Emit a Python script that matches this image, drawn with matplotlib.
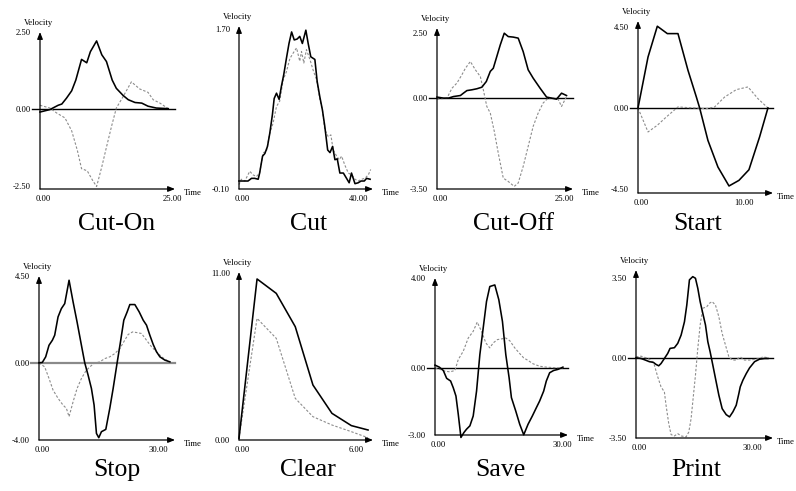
import matplotlib.pyplot as plt
from matplotlib.transforms import ScaledTranslation

plt.rcParams['font.family'] = ['Liberation Serif', 'DejaVu Serif']

# ---- data (time, velocity) ----
# Cut-On
cut_on_t = [0, 1.9, 3.5, 4.2, 5.1, 6.1, 6.9, 8.0, 9.0, 9.7, 10.9, 11.9, 12.8,
            13.9, 14.7, 16.0, 17.0, 18.3, 19.6, 20.8, 22.4, 24.7]
cut_on_solid = [-0.10, -0.02, 0.12, 0.16, 0.35, 0.59, 0.94, 1.61, 1.50, 1.86, 2.21,
                1.76, 1.54, 0.94, 0.67, 0.44, 0.30, 0.21, 0.19, 0.09, 0.03, 0.01]
cut_on_dot_t = [0, 1.9, 3.2, 4.8, 6.1, 7.2, 8.0, 9.1, 10.1, 10.9, 11.9, 12.8, 13.8,
                14.7, 16.0, 17.6, 19.2, 20.8, 21.8, 23.1, 24.7]
cut_on_dot = [0.12, 0.03, -0.13, -0.29, -0.71, -1.35, -1.94, -2.01, -2.31, -2.52,
              -1.88, -1.24, -0.55, 0.03, 0.40, 0.88, 0.65, 0.54, 0.30, 0.19, 0.01]

# Cut
cut_t = [0, 1.4, 3.1, 4.3, 5.4, 6.6, 7.1, 8.1, 8.9, 9.8, 10.6, 11.5, 12.1, 12.9,
         13.8, 14.6, 15.4, 16.3, 17.2, 18.1, 19.0, 20.0, 20.9, 21.8, 23.0, 23.8,
         24.7, 26.1, 26.9, 27.8, 28.7, 29.5, 30.5, 31.3, 32.2, 33.0, 33.8, 34.7,
         35.9, 37.0, 37.9, 38.7, 39.9, 41.0, 42.0, 43.1, 43.9, 45.1]
cut_solid = [-0.01, -0.01, -0.01, 0.02, 0.02, 0.01, 0.08, 0.27, 0.30, 0.38, 0.53,
             0.74, 0.92, 0.98, 0.91, 1.06, 1.19, 1.37, 1.54, 1.67, 1.58, 1.59, 1.62,
             1.54, 1.69, 1.54, 1.39, 1.36, 1.11, 0.94, 0.79, 0.61, 0.34, 0.31, 0.38,
             0.23, 0.24, 0.08, 0.08, 0.02, -0.03, 0.08, -0.04, -0.03, -0.01, -0.01,
             0.02, 0.01]
cut_dot_t = [0, 0.8, 2.0, 3.7, 4.8, 6.0, 7.1, 8.3, 9.4, 10.6, 11.7, 12.9, 14.0, 15.2,
             16.3, 17.5, 18.6, 19.8, 20.9, 21.5, 22.3, 23.2, 24.4, 25.5, 26.7, 27.8,
             28.7, 29.5, 30.7, 31.6, 32.4, 33.6, 34.5, 35.3, 36.4, 37.6, 38.7, 39.9,
             41.0, 42.2, 43.3, 44.5, 45.3]
cut_dot = [-0.05, 0.01, -0.01, 0.10, 0.06, 0.04, 0.08, 0.31, 0.32, 0.53, 0.64, 0.83,
           0.89, 1.13, 1.22, 1.37, 1.43, 1.49, 1.34, 1.45, 1.32, 1.47, 1.36, 1.24,
           1.13, 0.91, 0.79, 0.57, 0.49, 0.51, 0.34, 0.27, 0.23, 0.27, 0.17, 0.08,
           0.06, 0.01, -0.01, 0.01, 0.02, 0.06, 0.12]

# Cut-Off
cut_off_t = [0, 1.3, 2.3, 3.3, 4.7, 5.3, 6.0, 7.0, 8.0, 9.0, 9.9, 10.7, 11.3, 12.0,
             12.7, 13.5, 14.3, 15.3, 16.3, 17.3, 18.3, 19.3, 20.7, 22.0, 23.0, 24.0,
             25.0, 26.0]
cut_off_solid = [0.04, 0, 0, 0.06, 0.10, 0.19, 0.29, 0.32, 0.36, 0.42, 0.64, 1.03,
                 1.15, 1.60, 2.05, 2.50, 2.37, 2.35, 2.31, 1.79, 1.09, 0.77, 0.38,
                 0.04, 0, -0.04, 0.19, 0.10]
cut_off_dot_t = [0, 2.0, 3.0, 4.0, 5.0, 5.7, 6.7, 7.7, 8.7, 9.3, 10.0, 10.7, 11.5,
                 12.3, 13.3, 14.3, 15.5, 16.3, 17.3, 18.3, 19.3, 20.3, 21.3, 22.3,
                 23.3, 24.3, 25.0, 26.0]
cut_off_dot = [-0.04, 0, 0.38, 0.58, 0.90, 1.15, 1.41, 1.09, 0.83, 0.32, -0.32,
               -0.58, -1.28, -2.12, -3.08, -3.21, -3.40, -3.27, -2.63, -1.86, -1.09,
               -0.58, -0.19, 0, 0, -0.04, -0.32, 0.06]

# Start
start_t = [0, 0.97, 1.87, 2.84, 3.87, 4.84, 5.65, 5.97, 6.77, 7.74, 8.81, 9.77,
           10.74, 11.77, 12.58]
start_solid = [0, 2.83, 4.54, 4.13, 4.13, 2.09, 0.61, 0, -1.80, -3.28, -4.33,
               -4.02, -3.43, -1.61, 0]
start_dot_t = [0, 0.97, 1.87, 2.74, 3.87, 4.84, 5.65, 6.61, 7.42, 8.39, 9.52,
               10.65, 11.61, 12.58]
start_dot = [0, -1.33, -0.96, -0.50, 0.06, 0.02, 0, -0.04, 0.06, 0.61, 1.02, 1.17,
             0.52, 0]

# Stop
stop_t = [0, 0.86, 1.73, 2.59, 3.46, 4.06, 4.93, 5.79, 6.66, 7.78, 8.82, 9.85,
          10.98, 11.84, 12.71, 13.57, 14.26, 14.87, 15.47, 16.16, 17.29, 18.32,
          19.19, 20.22, 21.09, 21.95, 22.82, 23.51, 24.81, 25.93, 26.97, 27.83,
          28.69, 29.56, 30.42, 31.29, 32.58, 33.88]
stop_solid = [0, 0.02, 0.31, 0.91, 1.17, 1.43, 2.38, 2.81, 3.07, 4.28, 3.16, 2.12,
              0.91, 0, -0.64, -1.33, -2.19, -3.66, -3.88, -3.57, -3.45, -2.36, -1.33,
              0, 1.09, 2.21, 2.64, 3.02, 3.02, 2.64, 2.21, 1.95, 1.43, 0.95, 0.57,
              0.31, 0.14, 0.05]
stop_dot_t = [0, 1.47, 2.59, 3.63, 4.93, 6.22, 7.09, 7.78, 8.82, 9.85, 10.98, 12.1,
              13.14, 14.26, 15.73, 17.03, 18.32, 19.62, 20.92, 21.95, 23.08, 24.2,
              25.24, 26.53, 27.83, 29.13, 30.42, 31.72, 33.02, 33.88]
stop_dot = [0, -0.21, -0.81, -1.41, -1.84, -2.19, -2.36, -2.79, -2.02, -1.33, -0.81,
            -0.43, -0.21, -0.03, 0.05, 0.22, 0.31, 0.48, 0.74, 1.09, 1.47, 1.60,
            1.57, 1.52, 1.17, 0.83, 0.57, 0.31, 0.14, 0.05]

# Clear
clear_t = [0, 0.95, 1.96, 2.96, 3.89, 4.89, 5.91, 6.79]
clear_solid = [0.11, 10.63, 9.68, 7.48, 3.63, 1.76, 0.95, 0.66]
clear_dot_t = clear_t
clear_dot = [0.11, 8.03, 6.71, 2.75, 1.54, 0.99, 0.55, 0.15]

# Save
save_t = [0, 1.05, 2.01, 2.82, 3.78, 4.42, 5.07, 5.63, 6.28, 7.0, 7.64, 8.45, 9.25,
          10.06, 10.86, 11.67, 12.47, 13.27, 14.48, 15.45, 16.33, 17.14, 17.94,
          18.5, 19.55, 20.51, 21.48, 22.53, 23.57, 24.54, 25.34, 26.31, 26.95,
          27.76, 28.72, 29.77, 30.97]
save_solid = [0.12, 0.03, -0.12, -0.47, -0.59, -0.89, -1.26, -2.07, -3.11, -2.89,
              -2.74, -2.59, -2.15, -1.04, 0.59, 1.78, 2.96, 3.63, 3.70, 3.04, 2.07,
              0.59, -0.44, -1.33, -1.93, -2.52, -2.99, -2.52, -2.15, -1.78, -1.48,
              -1.04, -0.59, -0.22, -0.12, -0.07, 0.03]
save_dot_t = [0, 1.21, 2.41, 3.62, 4.83, 5.63, 6.84, 8.05, 9.25, 10.22, 11.26,
              12.31, 13.27, 14.08, 15.12, 16.09, 17.14, 18.1, 19.31, 20.35, 21.48,
              22.53, 23.73, 25.34, 26.95, 29.36, 30.97]
save_dot = [0, -0.07, -0.15, -0.18, -0.12, 0.37, 0.74, 1.33, 1.63, 2.04, 1.63, 1.11,
            0.89, 1.11, 1.26, 1.29, 1.33, 1.21, 0.89, 0.67, 0.44, 0.33, 0.18, 0.07,
            0.03, 0, 0]

# Print
print_t = [0, 1.32, 2.47, 3.53, 4.59, 5.3, 6.0, 6.62, 7.5, 8.38, 9.0, 10.15, 11.03,
           11.92, 12.8, 13.42, 14.12, 15.0, 15.71, 16.33, 16.95, 17.65, 18.36,
           18.98, 19.59, 20.3, 21.0, 21.89, 22.77, 23.83, 24.71, 25.6, 26.48,
           27.18, 27.54, 28.24, 29.13, 30.01, 31.33, 32.66, 33.98, 34.86]
print_solid = [0, -0.03, -0.10, -0.17, -0.20, -0.29, -0.35, -0.25, -0.03, 0.19,
               0.41, 0.44, 0.63, 0.99, 1.57, 2.30, 3.40, 3.54, 3.47, 3.03, 2.45,
               1.94, 1.43, 0.70, 0.26, -0.32, -0.90, -1.63, -2.22, -2.48, -2.58,
               -2.36, -2.07, -1.56, -1.27, -0.98, -0.69, -0.44, -0.17, -0.06, -0.03,
               -0.03]
print_dot_t = [0, 1.32, 2.65, 3.97, 4.85, 5.74, 6.62, 7.5, 7.94, 8.65, 9.27, 10.15,
               11.03, 11.92, 13.24, 13.95, 14.56, 15.18, 15.71, 16.33, 16.95, 17.65,
               18.71, 19.42, 20.12, 21.0, 21.89, 22.77, 23.65, 24.54, 25.42, 26.48,
               27.54, 28.68, 30.01, 31.33, 32.66, 33.54, 34.86]
print_dot = [0.04, 0.07, 0, -0.10, -0.32, -0.83, -1.27, -1.49, -2.07, -2.87, -3.35,
             -3.41, -3.31, -3.41, -3.45, -3.24, -2.65, -1.63, -0.76, 0.41, 1.43,
             2.16, 2.23, 2.38, 2.45, 2.30, 1.79, 1.06, 0.55, 0.04, -0.10, -0.10,
             0.04, -0.10, -0.10, -0.07, -0.03, 0.04, 0]

titles = ['Cut-On', 'Cut', 'Cut-Off', 'Start', 'Stop', 'Clear', 'Save', 'Print']
y_ticks = [[-2.5, 0, 2.5], [-0.1, 1.7], [-3.5, 0, 2.5], [-4.5, 0, 4.5],
           [-4.0, 0, 4.5], [0, 11.0], [-3.0, 0, 4.0], [-3.5, 0, 3.5]]
x_max_tick = [25, 40, 25, 10, 30, 6, 30, 30]

series = [
    (cut_on_t, cut_on_solid, cut_on_dot_t, cut_on_dot),
    (cut_t, cut_solid, cut_dot_t, cut_dot),
    (cut_off_t, cut_off_solid, cut_off_dot_t, cut_off_dot),
    (start_t, start_solid, start_dot_t, start_dot),
    (stop_t, stop_solid, stop_dot_t, stop_dot),
    (clear_t, clear_solid, clear_dot_t, clear_dot),
    (save_t, save_solid, save_dot_t, save_dot),
    (print_t, print_solid, print_dot_t, print_dot),
]

# ---- layout (pixels in a 796x491 image: left, top, right, bottom) ----
W, H = 796, 491
rects = [(40, 32, 175, 189), (239, 26, 373, 189), (437, 28, 573, 189),
         (638, 21, 773, 193), (39, 276, 175, 440), (239, 272, 373, 440),
         (435, 278, 568, 435), (636, 270, 773, 438)]
x_ends = [26.0, 46.1, 27.3, 13.07, 35.2, 7.05, 32.2, 36.2]
y_lims = [(-2.6, 2.5), (-0.1, 1.737), (-3.5, 2.7), (-4.72, 4.83),
          (-4.0, 4.5), (0, 11.09), (-3.0, 4.01), (-3.5, 3.83)]
zero_colors = ['black', None, 'black', 'black', '#8a8a8a', None, 'black', 'black']
time_dx = [6.5, 6.5, 6.5, 2.5, 6.5, 6.5, 6.5, 2.5]
title_pos = [(117, 230), (309, 230), (513, 230), (698, 230),
             (117, 476), (308, 476), (500, 476), (696, 476)]

fig = plt.figure(figsize=(W / 100, H / 100), dpi=100)
small = 6.2

for i in range(8):
    l, t, r, b = rects[i]
    ax = fig.add_axes([l / W, 1 - b / H, (r - l) / W, (b - t) / H])
    ts, vs, td, vd = series[i]

    ax.set_xlim(0, x_ends[i])
    ax.set_ylim(*y_lims[i])
    for s in ax.spines.values():
        s.set_visible(False)

    # axes with arrow heads
    arrow = dict(arrowstyle='-|>,head_length=0.45,head_width=0.18', lw=0.9,
                 color='black', shrinkA=0, shrinkB=0, mutation_scale=9)
    ax.annotate('', xy=(0, 1), xytext=(0, 0), xycoords='axes fraction',
                arrowprops=arrow, annotation_clip=False)
    ax.annotate('', xy=(1, 0), xytext=(0, 0), xycoords='axes fraction',
                arrowprops=arrow, annotation_clip=False)

    if zero_colors[i] is not None:
        lw0 = 1.6 if zero_colors[i] != 'black' else 1.0
        ax.plot([-8 / (r - l), 1], [0, 0], color=zero_colors[i], lw=lw0,
                transform=ax.get_yaxis_transform(), clip_on=False, zorder=1)

    ax.plot(td, vd, color='#8c8c8c', lw=0.8, linestyle=(0, (2.2, 1.6)),
            clip_on=False, zorder=2)
    ax.plot(ts, vs, color='black', lw=1.15, clip_on=False, zorder=3)

    ax.set_yticks(y_ticks[i])
    ax.set_yticklabels(['%.2f' % v for v in y_ticks[i]])
    ax.set_xticks([0, x_max_tick[i]])
    ax.set_xticklabels(['%.2f' % v for v in [0, x_max_tick[i]]])
    ax.tick_params(axis='both', length=0, labelsize=small)
    ax.tick_params(axis='y', pad=6.5)
    ax.tick_params(axis='x', pad=4.5)
    shift = ScaledTranslation(3 / 100, 0, fig.dpi_scale_trans)
    for lab in ax.get_xticklabels():
        lab.set_transform(lab.get_transform() + shift)

    ax.annotate('Velocity', xy=(0, 1), xycoords='axes fraction',
                xytext=(-0.7, 6.5), textcoords='offset points',
                ha='center', va='center', fontsize=small, annotation_clip=False)
    ax.annotate('Time', xy=(1, 0), xycoords='axes fraction',
                xytext=(time_dx[i], -3), textcoords='offset points',
                ha='left', va='center', fontsize=small, annotation_clip=False)

    tx, ty = title_pos[i]
    fig.text(tx / W, 1 - ty / H, titles[i], ha='center', va='baseline',
             fontsize=18.5)

fig.savefig('out.png', dpi=100)
